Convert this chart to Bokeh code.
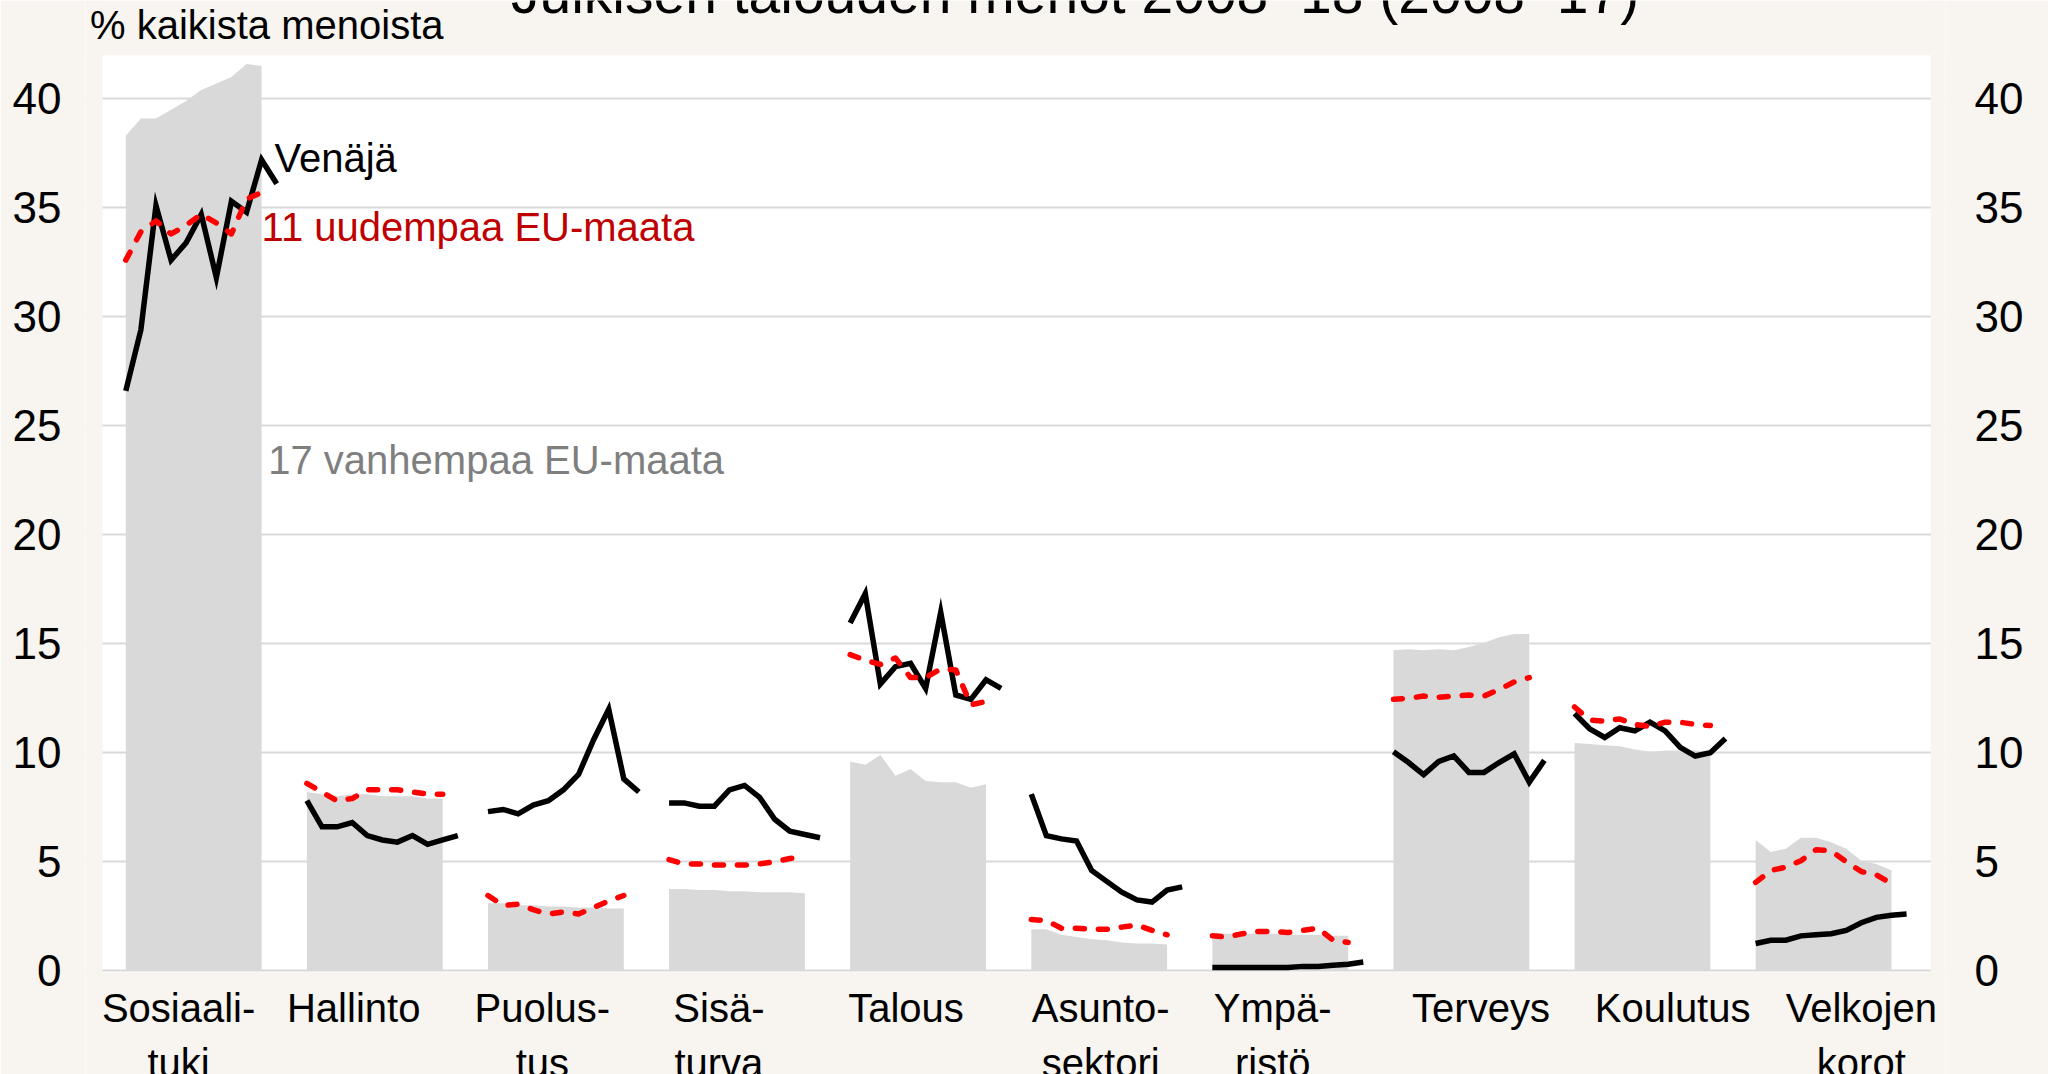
from bokeh.plotting import figure
from bokeh.models import Range1d, LinearAxis, FixedTicker, BoxAnnotation
from bokeh.core.properties import value
from bokeh.embed import file_html
from bokeh.resources import INLINE

# ---------------- data ----------------
categories = ["Sosiaali-\ntuki", "Hallinto", "Puolus-\ntus", "Sisä-\nturva", "Talous",
              "Asunto-\nsektori", "Ympä-\nristö", "Terveys", "Koulutus", "Velkojen\nkorot"]
years_eu = list(range(2008, 2018))   # EU series 2008-17
years_ru = list(range(2008, 2019))   # Russia 2008-18

# 17 older EU countries (grey area), % of total expenditure
old_eu17 = [
    [38.3, 39.1, 39.1, 39.5, 39.9, 40.4, 40.7, 41.0, 41.6, 41.5],
    [8.2, 8.1, 8.0, 8.1, 8.1, 8.0, 8.0, 8.0, 7.9, 7.9],
    [3.1, 3.1, 3.0, 3.0, 2.95, 2.95, 2.9, 2.9, 2.85, 2.85],
    [3.75, 3.75, 3.7, 3.7, 3.65, 3.65, 3.6, 3.6, 3.6, 3.55],
    [9.6, 9.45, 9.9, 8.95, 9.25, 8.7, 8.65, 8.65, 8.4, 8.55],
    [1.9, 1.9, 1.65, 1.55, 1.45, 1.4, 1.3, 1.25, 1.25, 1.2],
    [1.7, 1.7, 1.7, 1.7, 1.7, 1.65, 1.65, 1.65, 1.6, 1.6],
    [14.7, 14.75, 14.7, 14.75, 14.7, 14.85, 15.05, 15.3, 15.45, 15.45],
    [10.45, 10.4, 10.35, 10.3, 10.15, 10.05, 10.1, 10.1, 10.1, 10.0],
    [6.0, 5.45, 5.6, 6.1, 6.1, 5.9, 5.6, 5.05, 4.9, 4.6],
]

# 11 newer EU countries (red dashed)
new_eu11 = [
    [32.6, 33.9, 34.4, 33.8, 34.2, 34.7, 34.3, 33.8, 35.4, 35.7],
    [8.6, 8.2, 7.8, 7.9, 8.3, 8.3, 8.3, 8.2, 8.1, 8.1],
    [3.45, 3.0, 3.05, 2.8, 2.6, 2.7, 2.6, 2.9, 3.2, 3.45],
    [5.1, 4.9, 4.9, 4.85, 4.85, 4.85, 4.9, 5.0, 5.15, 5.2],
    [14.5, 14.25, 14.05, 14.35, 13.45, 13.45, 13.85, 13.8, 12.2, 12.35],
    [2.35, 2.3, 1.95, 1.95, 1.9, 1.9, 2.0, 2.1, 1.85, 1.65],
    [1.6, 1.55, 1.7, 1.8, 1.8, 1.75, 1.85, 1.95, 1.4, 1.3],
    [12.45, 12.5, 12.6, 12.55, 12.6, 12.65, 12.6, 12.9, 13.25, 13.45],
    [12.1, 11.5, 11.45, 11.55, 11.3, 11.2, 11.4, 11.4, 11.3, 11.25],
    [4.05, 4.6, 4.75, 5.05, 5.55, 5.5, 5.0, 4.55, 4.4, 4.0],
]

# Russia (black)
russia = [
    [26.6, 29.4, 35.1, 32.6, 33.4, 34.7, 31.8, 35.3, 34.8, 37.2, 36.1],
    [7.8, 6.6, 6.6, 6.8, 6.2, 6.0, 5.9, 6.2, 5.8, 6.0, 6.2],
    [7.3, 7.4, 7.2, 7.6, 7.8, 8.3, 9.0, 10.6, 12.0, 8.8, 8.2],
    [7.7, 7.7, 7.55, 7.55, 8.3, 8.5, 7.95, 6.95, 6.4, 6.25, 6.1],
    [15.95, 17.3, 13.15, 13.95, 14.1, 12.95, 16.45, 12.65, 12.45, 13.35, 12.95],
    [8.1, 6.2, 6.05, 5.95, 4.6, 4.1, 3.6, 3.25, 3.15, 3.7, 3.85],
    [0.15, 0.15, 0.15, 0.15, 0.15, 0.15, 0.2, 0.2, 0.25, 0.3, 0.4],
    [10.05, 9.55, 9.0, 9.6, 9.85, 9.1, 9.1, 9.55, 9.95, 8.65, 9.65],
    [11.8, 11.1, 10.7, 11.15, 11.0, 11.4, 11.0, 10.25, 9.85, 10.0, 10.65],
    [1.25, 1.4, 1.4, 1.6, 1.65, 1.7, 1.85, 2.2, 2.45, 2.55, 2.6],
]

y_ticks = [0, 5, 10, 15, 20, 25, 30, 35, 40]

# ---------------- layout constants ----------------
STRIDE = 12                     # slots per category group (11 years + gap)
label_pos = [3.5, 15.1, 27.6, 39.3, 51.7, 64.6, 76.0, 89.8, 102.5, 115.0]
AREA_X = (-1.54, 119.6)         # white plotting area, x extent
AREA_Y = (0, 42)                # white plotting area, y extent
BG = "#F8F4EF"
FONT = "Liberation Sans"

p = figure(width=2048, height=1074,
           x_range=Range1d(-2.67, 120.58), y_range=Range1d(-4.76, 44.51),
           output_backend="svg", toolbar_location=None,
           x_axis_location=None, y_axis_location=None,
           min_border_left=85, min_border_right=103,
           min_border_top=0, min_border_bottom=0,
           background_fill_color="white", border_fill_color=BG,
           outline_line_color=None)

p.xgrid.visible = False
p.ygrid.ticker = FixedTicker(ticks=y_ticks)
p.ygrid.grid_line_color = "#D9D9D9"
p.ygrid.grid_line_width = 2

# beige surroundings of the white plotting area
for kw in (dict(bottom=AREA_Y[1]), dict(top=AREA_Y[0] - 0.08),
           dict(right=AREA_X[0]), dict(left=AREA_X[1])):
    p.add_layout(BoxAnnotation(fill_color=BG, fill_alpha=1.0, line_color=None,
                               level="underlay", **kw))

for side, standoff in (("left", 18), ("right", 23)):
    ax = LinearAxis(ticker=FixedTicker(ticks=y_ticks))
    ax.axis_line_color = None
    ax.major_tick_line_color = None
    ax.minor_tick_line_color = None
    ax.major_label_standoff = standoff
    ax.major_label_text_font = FONT
    ax.major_label_text_font_size = "44px"
    ax.major_label_text_color = "black"
    p.add_layout(ax, side)

for g in range(len(categories)):
    xe = [g * STRIDE + (y - years_eu[0]) for y in years_eu]
    xr = [g * STRIDE + (y - years_ru[0]) for y in years_ru]
    p.varea(x=xe, y1=[0] * len(xe), y2=old_eu17[g], fill_color="#D9D9D9")
    p.line(x=xr, y=russia[g], line_color="black", line_width=5.5,
           line_join="miter", line_cap="butt")
    p.line(x=xe, y=new_eu11[g], line_color="#FF0000", line_width=5.5,
           line_dash="9 14", line_cap="round", line_join="round")

# category labels below the plotting area
p.text(x=label_pos, y=[-0.72] * len(categories), text=categories,
       text_align="center", text_baseline="top",
       text_font=value(FONT), text_font_size="40px", text_color="black",
       text_line_height=1.25)

# series labels
p.text(x=[9.85], y=[38.3], text=["Venäjä"], text_font=value(FONT),
       text_font_size="40px", text_color="black", text_baseline="top")
p.text(x=[9.0], y=[35.15], text=["11 uudempaa EU-maata"], text_font=value(FONT),
       text_font_size="40px", text_color="#C00000", text_baseline="top")
p.text(x=[9.44], y=[24.42], text=["17 vanhempaa EU-maata"], text_font=value(FONT),
       text_font_size="40px", text_color="#7F7F7F", text_baseline="top")

# unit label and title
p.text(x=[-2.37], y=[44.38], text=["% kaikista menoista"], text_font=value(FONT),
       text_font_size="40px", text_color="black", text_baseline="top")
p.text(x=[62.9], y=[46.33], text=["Julkisen talouden menot 2008–18 (2008–17)"],
       text_font=value(FONT), text_font_size="57px", text_color="black",
       text_align="center", text_baseline="top")

open("out.html", "w").write(file_html(p, INLINE))
